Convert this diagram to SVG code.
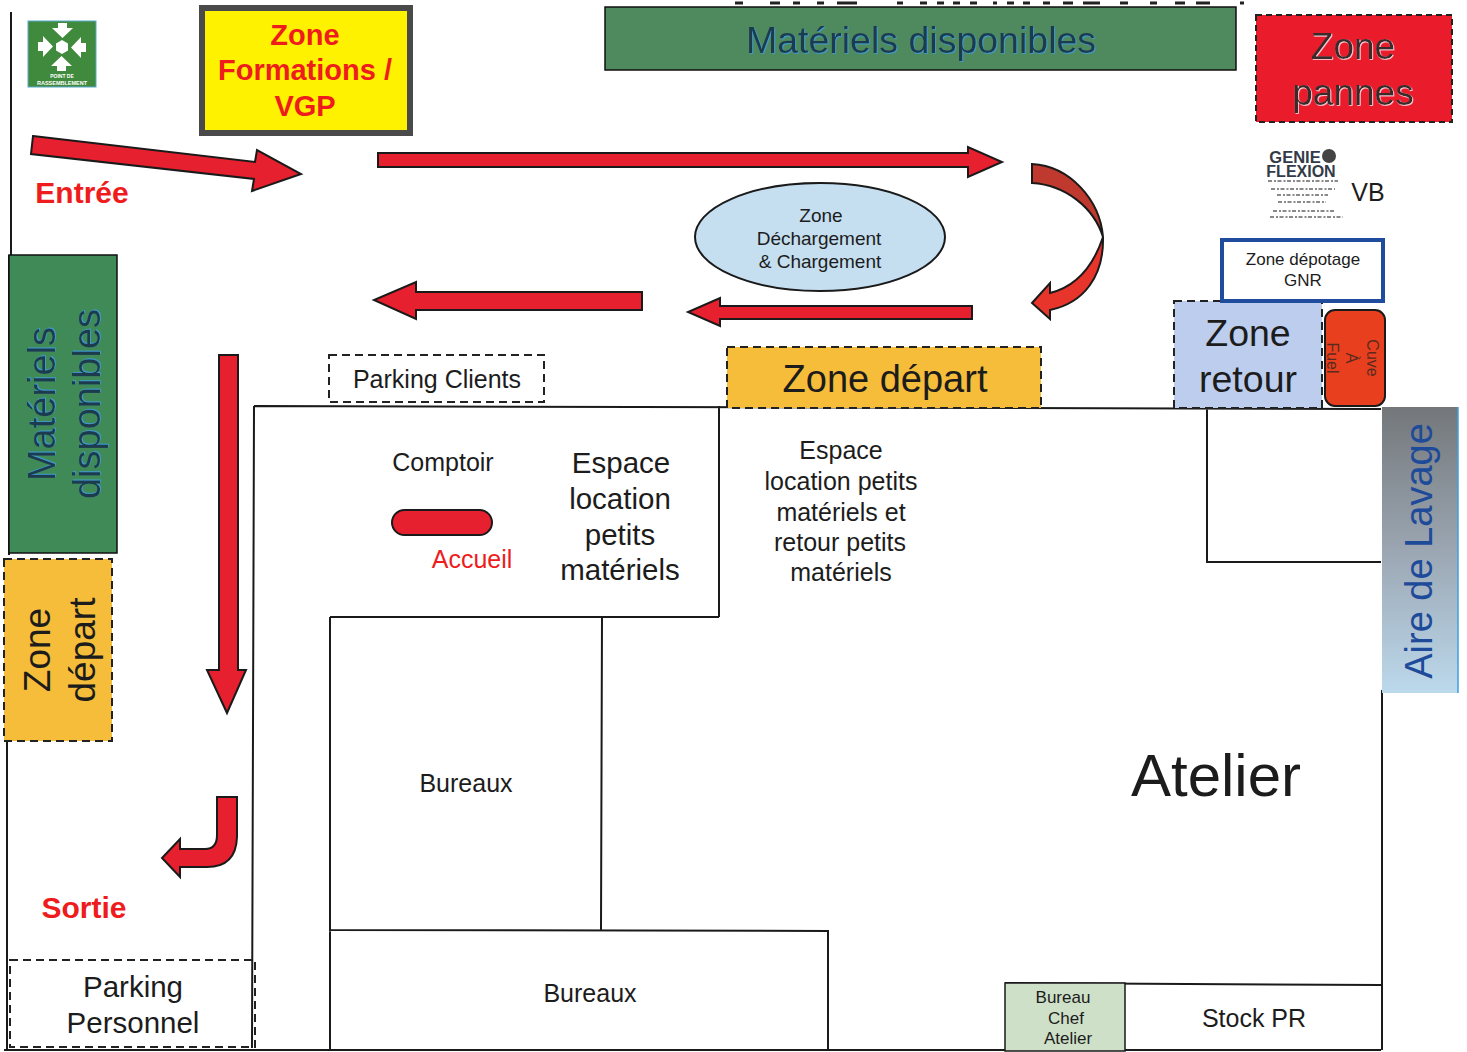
<svg xmlns="http://www.w3.org/2000/svg" width="1467" height="1052" viewBox="0 0 1467 1052">
<style>
text{font-family:"Liberation Sans",Arial,sans-serif;fill:#1c1c1c;text-anchor:middle}
.w{fill:none;stroke:#1a1a1a;stroke-width:2}
.arrow{fill:#e6202f;stroke:#1a1a1a;stroke-width:2;stroke-linejoin:miter}
.dash{stroke:#222;stroke-width:2;stroke-dasharray:8 5}
.red{fill:#ee1c1c;font-weight:bold}
.mat{fill:#1d3b4d;filter:url(#bluehalo)}
.micro{stroke:#8a8a8a;stroke-width:2;stroke-dasharray:4 2 2 1.500;fill:none}
</style>
<defs>
<filter id="bluehalo" x="-5%" y="-5%" width="110%" height="110%"><feDropShadow dx="0.8" dy="0.8" stdDeviation="0.4" flood-color="#3f9fe0"/></filter>
<filter id="whitehalo" x="-5%" y="-5%" width="110%" height="110%"><feDropShadow dx="0.8" dy="0.8" stdDeviation="0.4" flood-color="#ffe6ee"/></filter>
<linearGradient id="lav" x1="0" y1="0" x2="0" y2="1"><stop offset="0" stop-color="#73777a"/><stop offset="0.5" stop-color="#9ba6b2"/><stop offset="1" stop-color="#bcd9ec"/></linearGradient>
<polygon id="logo-arrow" points="-4,-24 5,-24 5,-19 11,-19 0.5,-9 -10,-19 -4,-19" fill="#fff"/>
</defs>
<rect width="1467" height="1052" fill="#fff"/>
<path id="clipped-top-edge" d="M735 3H743M770 3H780M793 3H800M817 3H824M837 3H857M897 3H903M920 3H927M937 3H944M953 3H960M970 3H977M993 3H997M1007 3H1014M1023 3H1030M1043 3H1050M1063 3H1073M1083 3H1100M1120 3H1128M1150 3H1157M1175 3H1185M1196 3H1210M1240 3H1244" stroke="#222" stroke-width="3" fill="none"/>
<g id="walls">
<path class="w" d="M11 12V255M9 255V555M7 741V1050M254 406L252 1048M254 406L1381 409M719 406V617M330 617H719M330 617V1050M602 617L601 930M329 930L828 931V1050M1207 409V562H1381M1382 690V1050M1005 983L1381 985M4 1050H1381"/>
</g>
<g id="connectors">
<path class="arrow" d="M33 136L255 162L257 150L301 174L252 191L254 179L31 154Z"/>
<path class="arrow" d="M378 153H968V147L1002 162L968 177V167H378Z"/>
<path class="arrow" d="M642 292V310H416V319L374 300L416 282V292Z"/>
<path class="arrow" d="M972 306V319H720V326L688 312L720 298V306Z"/>
<path class="arrow" d="M219 355H238V670H246L227 713L207 670H219Z"/>
<path class="arrow" d="M217 797H237V837Q236 867 207 867H180V877L162 858L180 839V849H205Q217 849 217 835Z"/>
<path d="M1032 164C1070 166 1100 200 1103 237C1094 208 1066 185 1032 183Z" fill="#c0392e" stroke="#1a1a1a" stroke-width="2"/>
<path d="M1103 237C1104 276 1084 303 1050 310V319L1032 303L1050 283V293C1074 287 1092 270 1103 237Z" fill="#e8352b" stroke="#1a1a1a" stroke-width="2"/>
</g>
<g id="logo-rassemblement">
<rect x="28" y="21" width="68" height="66" fill="#3f8a3c" stroke="#5ba9d0" stroke-width="1"/>
<polygon points="62,40 68,43.500 68,50.500 62,54 56,50.500 56,43.500" fill="#fff"/>
<use href="#logo-arrow" transform="translate(62 47)"/>
<use href="#logo-arrow" transform="translate(62 47) rotate(90)"/>
<use href="#logo-arrow" transform="translate(62 47) rotate(180)"/>
<use href="#logo-arrow" transform="translate(62 47) rotate(270)"/>
<text x="62" y="78" font-size="5" font-weight="bold" style="fill:#fff">POINT DE</text>
<text x="62" y="85" font-size="5.500" font-weight="bold" style="fill:#fff">RASSEMBLEMENT</text>
</g>
<g id="zone-formations">
<rect x="202" y="8" width="208" height="125" fill="#fef200" stroke="#4a4a4a" stroke-width="6"/>
<text class="red" font-size="29"><tspan x="305" y="45">Zone</tspan><tspan x="305" y="80">Formations /</tspan><tspan x="305" y="116">VGP</tspan></text>
</g>
<g id="materiels-top">
<rect x="605" y="7" width="631" height="63" fill="#4f8a5e" stroke="#111" stroke-width="1.500"/>
<text class="mat" x="921" y="53" font-size="37.500">Matériels disponibles</text>
</g>
<g id="zone-pannes">
<rect x="1256" y="15" width="196" height="107" fill="#ea1c2c" class="dash" style="stroke-dasharray:6 4"/>
<text font-size="37" style="fill:#3a2a2a;filter:url(#whitehalo)"><tspan x="1353" y="59">Zone</tspan><tspan x="1353" y="105">pannes</tspan></text>
</g>
<g id="logo-genie">
<text x="1295" y="163" font-size="16.500" font-weight="bold" style="fill:#333b48">GENIE</text>
<circle cx="1329" cy="156" r="7" fill="#444"/>
<text x="1301" y="177" font-size="16" font-weight="bold" style="fill:#333b48">FLEXION</text>
<path class="micro" d="M1268 181H1338M1271 189H1335M1277 195H1328M1278 202H1326M1273 211H1336M1270 217H1343"/>
</g>
<text id="vb" x="1368" y="201" font-size="25">VB</text>
<g id="entree"><text class="red" x="82" y="203" font-size="30">Entrée</text></g>
<g id="zone-dechargement">
<ellipse cx="820" cy="237" rx="125" ry="54" fill="#c5dff0" stroke="#1a1a1a" stroke-width="2"/>
<text font-size="19"><tspan x="821" y="222">Zone</tspan><tspan x="819" y="245">Déchargement</tspan><tspan x="820" y="268">&amp; Chargement</tspan></text>
</g>
<g id="zone-retour">
<rect x="1174" y="301" width="148" height="107" fill="#bccdee" class="dash"/>
<text font-size="37.500"><tspan x="1248" y="346">Zone</tspan><tspan x="1248" y="392">retour</tspan></text>
</g>
<g id="zone-depotage">
<rect x="1222" y="240" width="161" height="61" fill="#fff" stroke="#1f4c9c" stroke-width="4"/>
<text font-size="17"><tspan x="1303" y="265">Zone dépotage</tspan><tspan x="1303" y="286">GNR</tspan></text>
</g>
<g id="cuve-fuel">
<rect x="1325" y="310" width="60" height="96" rx="10" fill="#e8401e" stroke="#1a1a1a" stroke-width="2"/>
<text font-size="16" transform="translate(1355 358) rotate(90)" style="fill:#5a2a1e"><tspan x="0" y="-12">Cuve</tspan><tspan x="0" y="9">À</tspan><tspan x="0" y="28">Fuel</tspan></text>
</g>
<g id="parking-clients">
<rect x="329" y="355" width="215" height="47" fill="#fff" class="dash"/>
<text x="437" y="388" font-size="25">Parking Clients</text>
</g>
<g id="zone-depart-top">
<rect x="727" y="347" width="314" height="61" fill="#f5bd3a" class="dash"/>
<text x="885" y="392" font-size="38">Zone départ</text>
</g>
<g id="materiels-left">
<rect x="9" y="255" width="108" height="298" fill="#3f8a56" stroke="#111" stroke-width="1.500"/>
<text class="mat" font-size="38" transform="translate(63 404) rotate(-90)"><tspan x="0" y="-8">Matériels</tspan><tspan x="0" y="37">disponibles</tspan></text>
</g>
<g id="zone-depart-left">
<rect x="4" y="559" width="108" height="182" fill="#f5bd3a" class="dash"/>
<text font-size="37" transform="translate(58 650) rotate(-90)"><tspan x="0" y="-8">Zone</tspan><tspan x="0" y="37">départ</tspan></text>
</g>
<g id="aire-lavage">
<rect x="1382" y="407" width="76" height="286" fill="url(#lav)"/>
<path d="M1458 407V693" stroke="#3f9fe0" stroke-width="1.500"/>
<text font-size="38" transform="translate(1432 551) rotate(-90)" style="fill:#1e4a9a">Aire de Lavage</text>
</g>
<g id="comptoir">
<text x="443" y="471" font-size="25">Comptoir</text>
<rect x="392" y="510" width="100" height="25" rx="12.500" fill="#e6202f" stroke="#1a1a1a" stroke-width="2"/>
<text x="472" y="568" font-size="25" style="fill:#ee1c1c">Accueil</text>
</g>
<g id="espace-location">
<text font-size="29.500"><tspan x="621" y="473">Espace</tspan><tspan x="620" y="509">location</tspan><tspan x="620" y="545">petits</tspan><tspan x="620" y="580">matériels</tspan></text>
</g>
<g id="espace-retour">
<text font-size="25"><tspan x="841" y="459">Espace</tspan><tspan x="841" y="490">location petits</tspan><tspan x="841" y="521">matériels et</tspan><tspan x="840" y="551">retour petits</tspan><tspan x="841" y="581">matériels</tspan></text>
</g>
<g id="bureaux-1"><text x="466" y="792" font-size="25">Bureaux</text></g>
<g id="bureaux-2"><text x="590" y="1002" font-size="25">Bureaux</text></g>
<g id="atelier"><text x="1216" y="796" font-size="60">Atelier</text></g>
<g id="sortie"><text class="red" x="84" y="918" font-size="30">Sortie</text></g>
<g id="parking-personnel">
<rect x="10" y="960" width="245" height="87" fill="none" class="dash"/>
<text font-size="29.500"><tspan x="133" y="997">Parking</tspan><tspan x="133" y="1033">Personnel</tspan></text>
</g>
<g id="bureau-chef">
<rect x="1005" y="983" width="120" height="68" fill="#cfe0c8" stroke="#1a1a1a" stroke-width="1.500"/>
<text font-size="17"><tspan x="1063" y="1003">Bureau</tspan><tspan x="1066" y="1024">Chef</tspan><tspan x="1068" y="1044">Atelier</tspan></text>
</g>
<g id="stock-pr"><text x="1254" y="1027" font-size="25">Stock PR</text></g>
</svg>
